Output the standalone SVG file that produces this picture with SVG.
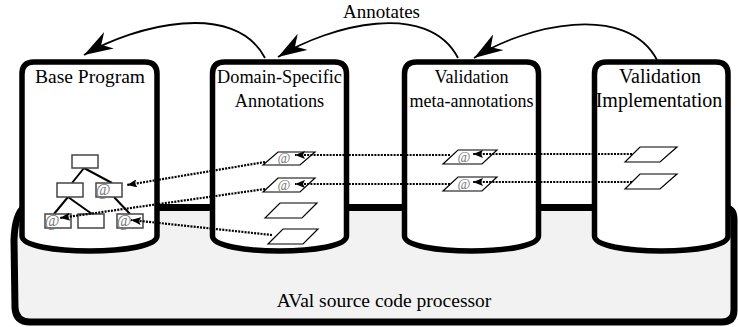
<svg xmlns="http://www.w3.org/2000/svg" width="738" height="327" viewBox="0 0 738 327">
<style>
.cyl{fill:#fff;stroke:#000;stroke-width:5.5;stroke-linejoin:round}
.ttl{font-family:'Liberation Serif','Tinos','DejaVu Serif','Times New Roman',serif;fill:#000;text-anchor:middle}
.curve{fill:none;stroke:#000;stroke-width:1.8}
.dot{fill:none;stroke:#000;stroke-width:2.2;stroke-dasharray:2 1.2}
.para{fill:#fff;stroke:#000;stroke-width:1.2}
.box{fill:#fff;stroke:#444;stroke-width:1.5}
.edge{stroke:#000;stroke-width:2}
.at{font-family:'Liberation Serif','Tinos','DejaVu Serif','Times New Roman',serif;fill:#777;text-anchor:middle}
</style>
<defs>
<marker id="big" viewBox="0 0 30 19" refX="29" refY="9.5" markerWidth="30" markerHeight="19" orient="auto" markerUnits="userSpaceOnUse">
<path d="M0,0 L29,9.5 L0,19 L9,9.5 z" fill="#000"/>
</marker>
<marker id="small" viewBox="0 0 10 8" refX="10" refY="4" markerWidth="10" markerHeight="8" orient="auto" markerUnits="userSpaceOnUse">
<path d="M0,0 L10,4 L0,8 L2,4 z" fill="#000"/>
</marker>
</defs>
<rect width="738" height="327" fill="#fff"/>

<g id="processor">
<path d="M28,207.5 L722,207.5 Q734,207.5 734,219 L734,310 Q734,322 722,322 L30,322 Q16,322 15,308 L14,240 Q15,214 24,207.5 Z" fill="#f2f2f2" stroke="#000" stroke-width="7"/>
<text class="ttl" x="384" y="307" font-size="19.5">AVal source code processor</text>
</g>

<g id="base-program">
<path class="cyl" d="M22,236 L22,74 Q22,62 34,62 L145,62 Q157,62 157,74 L157,236 C157,256 22,256 22,236 Z"/>
<text class="ttl" x="90" y="83" font-size="19.5">Base Program</text>
<g id="tree">
<line class="edge" x1="84" y1="168" x2="72" y2="183"/>
<line class="edge" x1="84" y1="168" x2="112" y2="183"/>
<line class="edge" x1="68" y1="197" x2="54" y2="214"/>
<line class="edge" x1="68" y1="197" x2="92" y2="214"/>
<line class="edge" x1="114" y1="197" x2="130" y2="214"/>
<rect class="box" x="72" y="155" width="26" height="13"/>
<rect class="box" x="57" y="183" width="26" height="14"/>
<rect class="box" x="96" y="183" width="26" height="14"/>
<rect class="box" x="45" y="214" width="26" height="14"/>
<rect class="box" x="78" y="214" width="26" height="14"/>
<rect class="box" x="117" y="214" width="26" height="14"/>
<text class="at" x="103" y="195" font-size="16">@</text>
<text class="at" x="52" y="226" font-size="16">@</text>
<text class="at" x="124" y="226" font-size="16">@</text>
</g>
</g>

<g id="domain-specific-annotations">
<path class="cyl" d="M212.5,236 L212.5,74 Q212.5,62 224.5,62 L334.5,62 Q346.5,62 346.5,74 L346.5,236 C346.5,256 212.5,256 212.5,236 Z"/>
<text class="ttl" x="279.5" y="83" font-size="18.3">Domain-Specific</text>
<text class="ttl" x="279.5" y="107" font-size="18.3">Annotations</text>
<polygon class="para" points="263,165 278,152 315,152 300,165"/>
<polygon class="para" points="263,192 278,178 315,178 300,192"/>
<polygon class="para" points="265,218 280,203 317,203 302,218"/>
<polygon class="para" points="268,244 283,229 318,229 303,244"/>
<text class="at" x="284" y="163" font-size="14">@</text>
<text class="at" x="284" y="190" font-size="14">@</text>
</g>

<g id="validation-meta-annotations">
<path class="cyl" d="M404.5,236 L404.5,74 Q404.5,62 416.5,62 L526.5,62 Q538.5,62 538.5,74 L538.5,236 C538.5,256 404.5,256 404.5,236 Z"/>
<text class="ttl" x="471.5" y="83" font-size="18">Validation</text>
<text class="ttl" x="471.5" y="107" font-size="18">meta-annotations</text>
<polygon class="para" points="443,164 458,150 497,150 482,164"/>
<polygon class="para" points="443,191 458,177 497,177 482,191"/>
<text class="at" x="464" y="162" font-size="14">@</text>
<text class="at" x="464" y="189" font-size="14">@</text>
</g>

<g id="validation-implementation">
<path class="cyl" d="M594.5,236 L594.5,74 Q594.5,62 606.5,62 L716,62 Q728,62 728,74 L728,236 C728,256 594.5,256 594.5,236 Z"/>
<text class="ttl" x="660" y="83" font-size="20">Validation</text>
<text class="ttl" x="659" y="107" font-size="20">Implementation</text>
<polygon class="para" points="625,162 640,147 677,147 660,162"/>
<polygon class="para" points="625,189 640,174 677,174 660,189"/>
</g>

<g id="connectors">
<text class="ttl" x="381.5" y="18" font-size="19">Annotates</text>
<path class="curve" d="M265,58 C235,0 135,25 84,55" marker-end="url(#big)"/>
<path class="curve" d="M458,58 C428,0 330,25 278,57" marker-end="url(#big)"/>
<path class="curve" d="M657,60 C627,2 525,25 474,58" marker-end="url(#big)"/>
<line class="dot" x1="632" y1="154" x2="473" y2="154" marker-end="url(#small)"/>
<line class="dot" x1="632" y1="182" x2="473" y2="182" marker-end="url(#small)"/>
<line class="dot" x1="450" y1="155" x2="295" y2="155" marker-end="url(#small)"/>
<line class="dot" x1="450" y1="184" x2="295" y2="184" marker-end="url(#small)"/>
<line class="dot" x1="265" y1="162" x2="127" y2="185" marker-end="url(#small)"/>
<line class="dot" x1="265" y1="189" x2="60" y2="218" marker-end="url(#small)"/>
<line class="dot" x1="272" y1="235" x2="131" y2="220" marker-end="url(#small)"/>
</g>
</svg>
